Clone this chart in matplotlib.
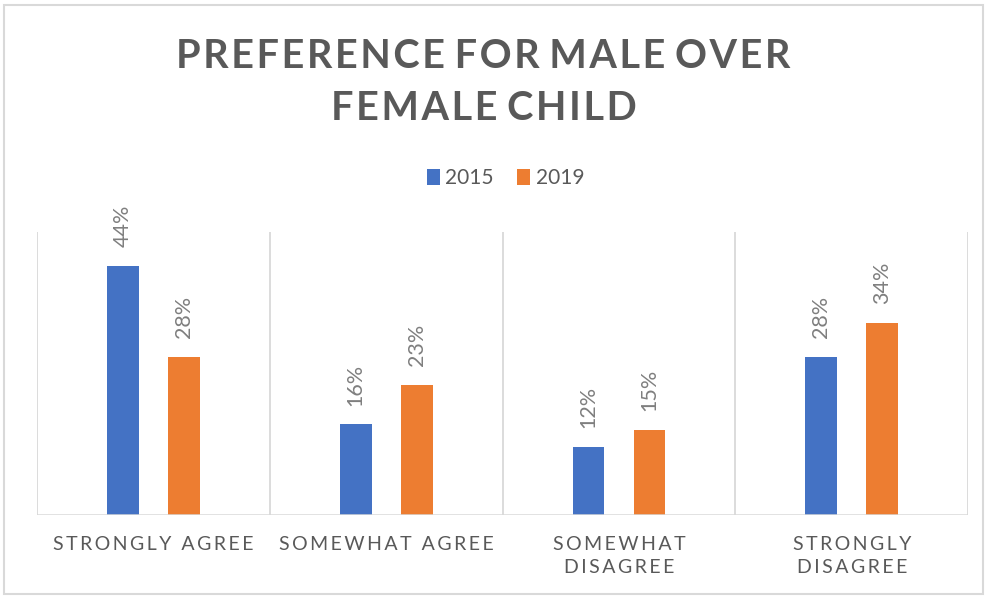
import matplotlib
matplotlib.use("Agg")
import matplotlib.pyplot as plt
import numpy as np
from matplotlib.patches import Rectangle

# Survey responses, share of respondents (%)
categories = ["STRONGLY AGREE", "SOMEWHAT AGREE", "SOMEWHAT\nDISAGREE", "STRONGLY\nDISAGREE"]
years = ["2015", "2019"]
values_2015 = [44, 16, 12, 28]
values_2019 = [28, 23, 15, 34]

colors = ["#4472C4", "#ED7D31"]
text_grey = "#595959"
grid_grey = "#D9D9D9"

plt.rcParams["font.family"] = ["Lato", "DejaVu Sans"]


def spaced(s, gap="\u2009", word=" "):
    # spread the letters of each line apart
    out = []
    for line in s.split("\n"):
        out.append(word.join(gap.join(w) for w in line.split(" ")))
    return "\n".join(out)


fig = plt.figure(figsize=(9.87, 5.98), dpi=100)
ax = fig.add_axes([0.0375, 0.1388, 0.9435, 0.4732])

x = np.arange(len(categories))
offset = 0.131
width = 0.137
bars = []
for i, (vals, year) in enumerate(zip([values_2015, values_2019], years)):
    b = ax.bar(x + (2 * i - 1) * offset, vals, width, color=colors[i], label=year, zorder=3)
    bars.append(b)
    for rect, v in zip(b, vals):
        ax.annotate(f"{v}%", (rect.get_x() + rect.get_width() / 2, rect.get_height()),
                    xytext=(0, 13.5), textcoords="offset points", rotation=90,
                    ha="center", va="bottom", fontsize=15.5, color="#7F7F7F")

ax.set_xlim(-0.5, 3.5)
ax.set_ylim(0, 50)
ax.set_yticks([])

# vertical separators between categories
for xv in np.arange(-0.5, 4, 1):
    ax.axvline(xv, color=grid_grey, lw=1.3, zorder=1)
for s in ax.spines.values():
    s.set_visible(False)
ax.axhline(0, color=grid_grey, lw=1.8, zorder=4)

ax.set_xticks(x)
ax.set_xticklabels([spaced(c, word="\u2009 \u2009") for c in categories], fontsize=14,
                   color=text_grey, linespacing=1.45, va="top")
ax.tick_params(axis="x", length=0, pad=15)

fig.text(0.49, 0.862, spaced("PREFERENCE FOR MALE OVER\nFEMALE CHILD", gap="\u200a"),
         ha="center", va="center", fontsize=28.5, fontweight="bold", color=text_grey,
         linespacing=1.5)

leg = fig.legend(handles=bars, labels=years, loc="center", bbox_to_anchor=(0.512, 0.702),
                 ncol=2, frameon=False, handlelength=0.65, handleheight=0.75,
                 handletextpad=0.25, columnspacing=1.1, prop={"size": 15})
for t in leg.get_texts():
    t.set_color(text_grey)

fig.patches.append(Rectangle((0.004, 0.006), 0.992, 0.986, transform=fig.transFigure,
                             fill=False, edgecolor=grid_grey, lw=1.5))

fig.savefig("out.png", dpi=100)
